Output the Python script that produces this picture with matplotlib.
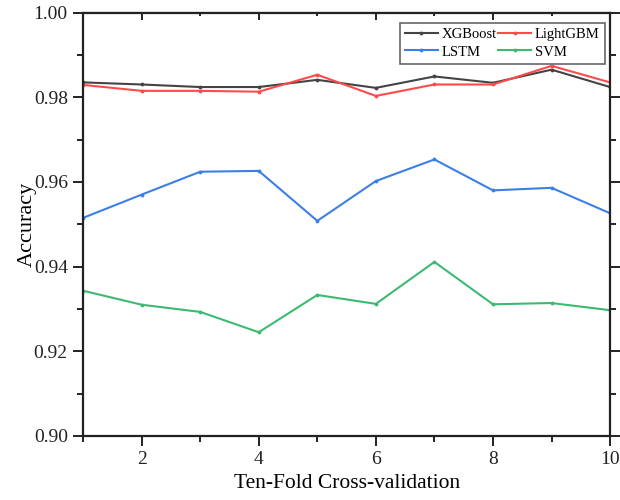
import matplotlib
matplotlib.use("Agg")
from matplotlib import pyplot as plt

# 十折交叉验证的准确率
folds = [1, 2, 3, 4, 5, 6, 7, 8, 9, 10]
xgboost = [0.9835, 0.9830, 0.9824, 0.9824, 0.9841, 0.9822, 0.9849, 0.9834, 0.9865, 0.9824]
lightgbm = [0.9829, 0.9815, 0.9815, 0.9813, 0.9853, 0.9803, 0.9830, 0.9830, 0.9874, 0.9835]
lstm = [0.9515, 0.9570, 0.9624, 0.9626, 0.9508, 0.9602, 0.9653, 0.9580, 0.9586, 0.9526]
svm = [0.9343, 0.9310, 0.9293, 0.9245, 0.9333, 0.9312, 0.9411, 0.9311, 0.9314, 0.9297]

plt.rcParams['font.family'] = ['Liberation Serif', 'DejaVu Serif']

fig = plt.figure(figsize=(6.2, 5), dpi=100)
ax = fig.add_axes([0.134, 0.128, 0.850, 0.847])

l1, = ax.plot(folds, xgboost, label="XGBoost", color="#444444", lw=1.5, marker=".", ms=3.5)
l2, = ax.plot(folds, lightgbm, label="LightGBM", color="#ff4a4a", lw=1.5, marker=".", ms=3.5)
l3, = ax.plot(folds, lstm, label="LSTM", color="#3c7fe6", lw=1.5, marker=".", ms=3.5)
l4, = ax.plot(folds, svm, label="SVM", color="#3dba72", lw=1.5, marker=".", ms=3.5)

ax.set_xlim(1, 10)
ax.set_ylim(0.90, 1.00)
ax.set_xticks([2, 4, 6, 8, 10])
ax.set_xticks([1, 3, 5, 7, 9], minor=True)
ax.set_yticks([0.90, 0.92, 0.94, 0.96, 0.98, 1.00])
ax.set_yticks([0.91, 0.93, 0.95, 0.97, 0.99], minor=True)
ax.yaxis.set_major_formatter(matplotlib.ticker.FormatStrFormatter('%.2f'))

ax.tick_params(which='both', direction='out', labelsize=14, colors='#222222', width=1.4, right=True)
ax.tick_params(which='major', length=7, pad=4)
ax.tick_params(which='minor', length=4)
for s in ax.spines.values():
    s.set_linewidth(1.6)
    s.set_color('#222222')

# 顶部刻度朝内
top = ax.secondary_xaxis('top')
top.set_xticks([2, 4, 6, 8, 10])
top.set_xticks([1, 3, 5, 7, 9], minor=True)
top.tick_params(which='both', direction='in', labeltop=False, width=1.4, colors='#222222')
top.tick_params(which='major', length=6)
top.tick_params(which='minor', length=3)

ax.set_xlabel("Ten-Fold Cross-validation", fontsize=15.5, labelpad=4)
ax.set_ylabel("Accuracy", fontsize=16, labelpad=-2)

# 图例按行排列：XGBoost LightGBM / LSTM SVM
leg = ax.legend([l1, l3, l2, l4], ["XGBoost", "LSTM", "LightGBM", "SVM"],
                loc="upper right", ncol=2, fontsize=10.5, frameon=True, fancybox=False,
                edgecolor="#666666", framealpha=1, handlelength=2.2, handletextpad=0.3,
                columnspacing=0.1, labelspacing=0.3, borderpad=0.35, borderaxespad=0,
                bbox_to_anchor=(0.99, 0.976))
leg.get_frame().set_linewidth(1.2)

plt.savefig("out.png", dpi=100)
